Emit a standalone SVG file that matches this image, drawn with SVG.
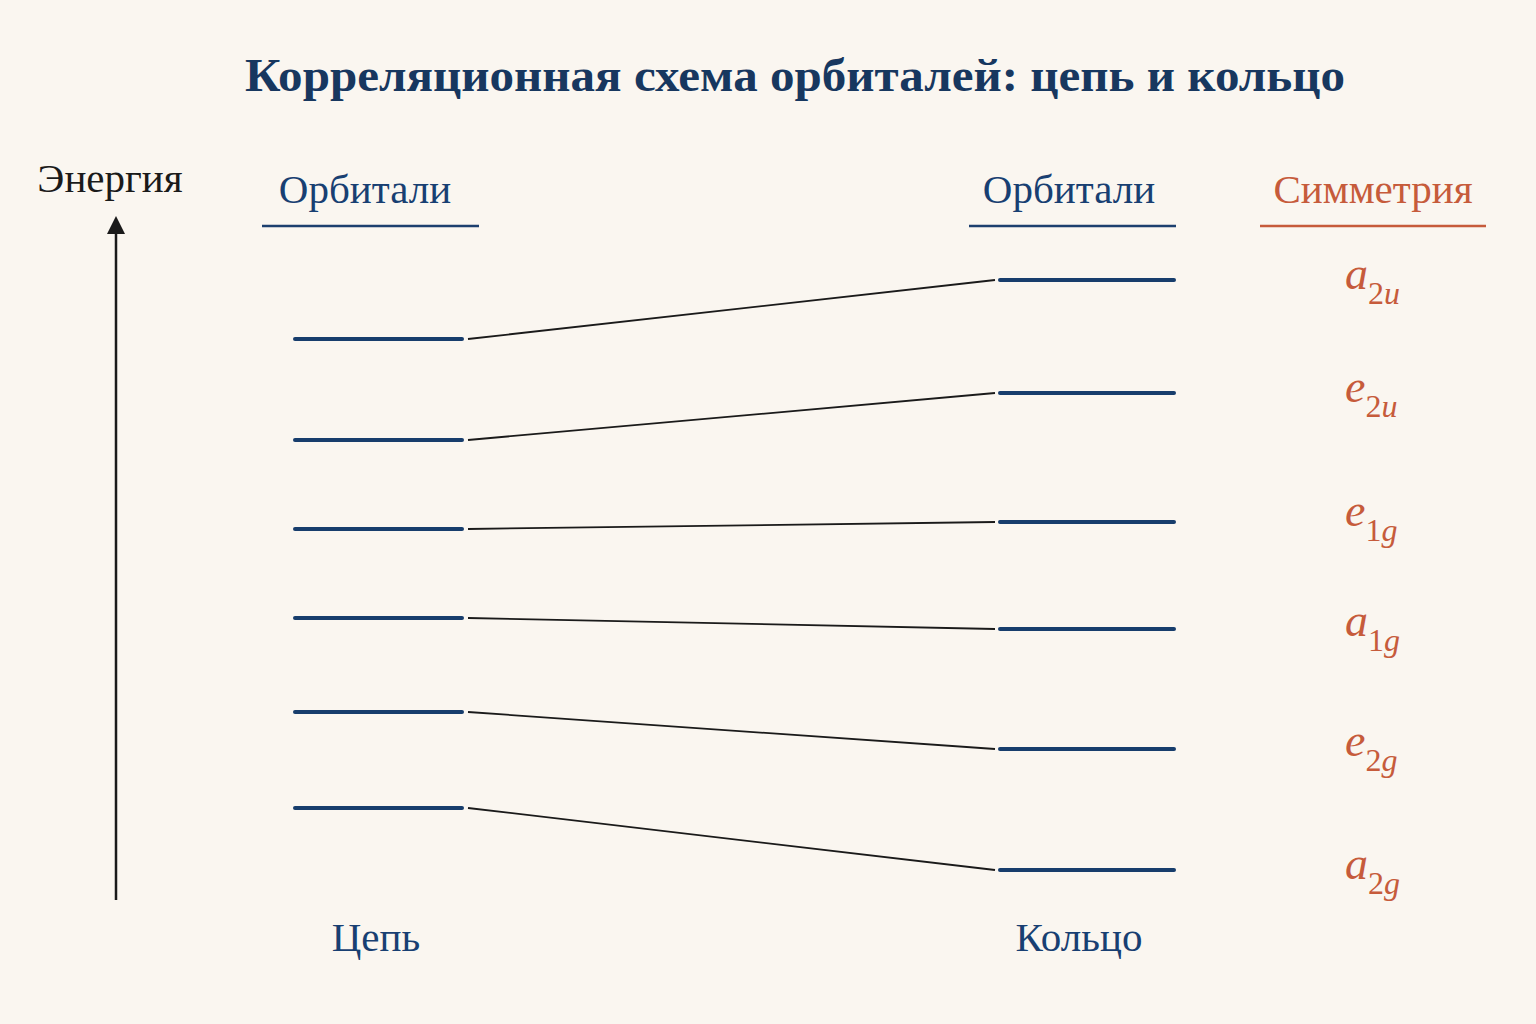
<svg xmlns="http://www.w3.org/2000/svg" width="1536" height="1024" viewBox="0 0 1536 1024">
<defs>
<style>
.t{font-family:"Liberation Serif","DejaVu Serif",serif}
.title{font-size:46px;font-weight:bold;fill:#17375f}
.hd{font-size:41px;fill:#183f72}
.sym{font-size:41px;fill:#c65b3b}
.lvl{stroke:#173d6c;stroke-width:4;stroke-linecap:round}
.ul{stroke:#1c3f6e;stroke-width:2.5}
.ulo{stroke:#c65b3b;stroke-width:2.5}
.con{stroke:#1a1a1a;stroke-width:1.8;fill:none}
.lab{font-size:46px;font-style:italic;fill:#c65b3b}
.sub{font-size:32px}
</style>
</defs>
<rect width="1536" height="1024" fill="#faf6f0"/>
<text class="t title" x="795" y="91" text-anchor="middle" textLength="1100" lengthAdjust="spacingAndGlyphs">Корреляционная схема орбиталей: цепь и кольцо</text>
<g id="axis">
<text class="t" x="110" y="192" font-size="41" fill="#1a1a1a" text-anchor="middle">Энергия</text>
<line x1="116" y1="900" x2="116" y2="232" stroke="#1a1a1a" stroke-width="2.5"/>
<path d="M107,234 L116,216 L125,234 Z" fill="#1a1a1a"/>
</g>
<g id="header-left">
<text class="t hd" x="365" y="203" text-anchor="middle">Орбитали</text>
<line class="ul" x1="262" y1="226" x2="479" y2="226"/>
</g>
<g id="header-right">
<text class="t hd" x="1069" y="203" text-anchor="middle">Орбитали</text>
<line class="ul" x1="969" y1="226" x2="1176" y2="226"/>
</g>
<g id="header-sym">
<text class="t sym" x="1373" y="203" text-anchor="middle">Симметрия</text>
<line class="ulo" x1="1260" y1="226" x2="1486" y2="226"/>
</g>
<g id="chain-levels">
<line class="lvl" x1="295" y1="339" x2="462" y2="339"/>
<line class="lvl" x1="295" y1="440" x2="462" y2="440"/>
<line class="lvl" x1="295" y1="529" x2="462" y2="529"/>
<line class="lvl" x1="295" y1="618" x2="462" y2="618"/>
<line class="lvl" x1="295" y1="712" x2="462" y2="712"/>
<line class="lvl" x1="295" y1="808" x2="462" y2="808"/>
</g>
<g id="ring-levels">
<line class="lvl" x1="1000" y1="280" x2="1174" y2="280"/>
<line class="lvl" x1="1000" y1="393" x2="1174" y2="393"/>
<line class="lvl" x1="1000" y1="522" x2="1174" y2="522"/>
<line class="lvl" x1="1000" y1="629" x2="1174" y2="629"/>
<line class="lvl" x1="1000" y1="749" x2="1174" y2="749"/>
<line class="lvl" x1="1000" y1="870" x2="1174" y2="870"/>
</g>
<g id="connectors">
<line class="con" x1="468" y1="339" x2="995" y2="280"/>
<line class="con" x1="468" y1="440" x2="995" y2="393"/>
<line class="con" x1="468" y1="529" x2="995" y2="522"/>
<line class="con" x1="468" y1="618" x2="995" y2="629"/>
<line class="con" x1="468" y1="712" x2="995" y2="749"/>
<line class="con" x1="468" y1="808" x2="995" y2="870"/>
</g>
<g id="symmetry-labels">
<text class="t lab" x="1345" y="289">a<tspan class="sub" dy="15" font-style="normal">2</tspan><tspan class="sub" font-style="italic">u</tspan></text>
<text class="t lab" x="1345" y="402">e<tspan class="sub" dy="15" font-style="normal">2</tspan><tspan class="sub" font-style="italic">u</tspan></text>
<text class="t lab" x="1345" y="526">e<tspan class="sub" dy="15" font-style="normal">1</tspan><tspan class="sub" font-style="italic">g</tspan></text>
<text class="t lab" x="1345" y="636">a<tspan class="sub" dy="15" font-style="normal">1</tspan><tspan class="sub" font-style="italic">g</tspan></text>
<text class="t lab" x="1345" y="756">e<tspan class="sub" dy="15" font-style="normal">2</tspan><tspan class="sub" font-style="italic">g</tspan></text>
<text class="t lab" x="1345" y="879">a<tspan class="sub" dy="15" font-style="normal">2</tspan><tspan class="sub" font-style="italic">g</tspan></text>
</g>
<g id="footer">
<text class="t hd" x="376" y="951" text-anchor="middle">Цепь</text>
<text class="t hd" x="1079" y="951" text-anchor="middle">Кольцо</text>
</g>
</svg>
